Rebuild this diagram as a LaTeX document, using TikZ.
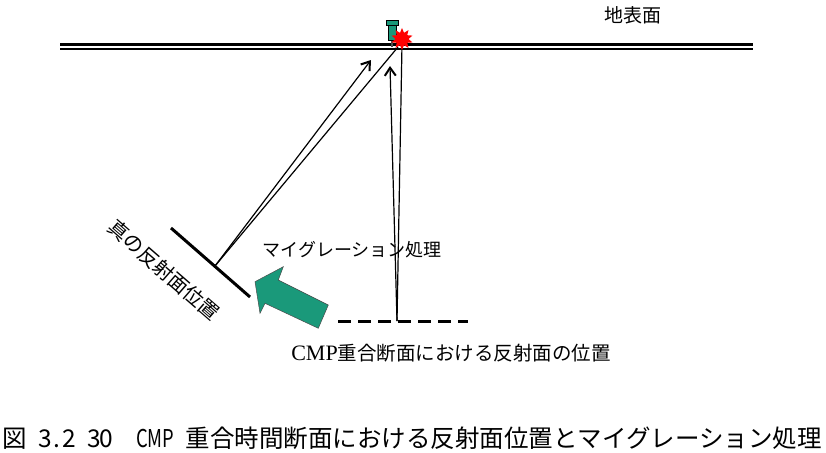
\documentclass[tikz,border=0pt]{standalone}
\usepackage{fontspec}
\usepackage{graphicx}
\setmainfont{Liberation Serif}
\newfontfamily\jpfont{Noto Sans CJK JP}
\usetikzlibrary{arrows.meta,shapes.geometric}
\definecolor{geogreen}{RGB}{26,153,122}
\newcommand\hw[1]{\makebox[0.5em]{#1}}

\begin{document}
\begin{tikzpicture}[x=1pt, y=-1pt,
	ray/.style={line width=1.2pt},
	jptext/.style={font=\jpfont\fontsize{18}{18}\selectfont, inner sep=0pt},
	>={Straight Barb[length=8pt, width=11pt, line width=2pt]}]
	\useasboundingbox (0,0) rectangle (826,452);

	\draw[line width=3.8pt] (60,44.5) -- (753,44.5);
	\draw[line width=1.6pt] (60,49.3) -- (753,49.3);

	\coordinate (reflA) at (171,228);
	\coordinate (reflB) at (250,297);
	\coordinate (normal) at (215,266);
	\coordinate (stackL) at (338,321);
	\coordinate (stackR) at (468,321);
	\coordinate (cmp) at (397,321);
	\coordinate (rxA) at (371,60);
	\coordinate (sxA) at (398,47);
	\coordinate (rxB) at (390,66);
	\coordinate (sxB) at (402,44);

	\draw[line width=3pt] (reflA) -- (reflB);
	\draw[line width=3pt, dash pattern=on 13pt off 7pt] (stackL) -- (stackR);

	\draw[ray, ->] (normal) -- (rxA);
	\draw[ray] (normal) -- (sxA);
	\draw[ray, ->] (cmp) -- (rxB);
	\draw[ray] (cmp) -- (sxB);

	\draw[line width=1.2pt, black!70] (392,40) -- (392,47);
	\filldraw[fill=geogreen, draw=black, line width=0.6pt] (388.5,25) rectangle (396,40.5);
	\filldraw[fill=geogreen, draw=black, line width=0.6pt] (386.5,20.5) rectangle (398.5,25.5);
	\node[star, star points=10, star point ratio=1.7, fill=red, minimum size=22pt, inner sep=0pt] (shot) at (402,39) {};

	\filldraw[fill=geogreen, draw=black!70, line width=0.5pt] (255,281.7) -- (283.3,266.7) -- (278.3,280) -- (328.3,305) -- (318.3,328.3) -- (265,303.3) -- (260,313.3) -- cycle;

	\node[jptext, font=\jpfont\fontsize{19}{19}\selectfont] (surface) at (633,15) {地表面};
	\node[jptext, font=\jpfont\fontsize{20}{20}\selectfont, rotate=-41] (truepos) at (164,270) {真の反射面位置};
	\node[jptext] (migration) at (352,250) {マイグレーション処理};
	\node[inner sep=0pt] (stacklabel) at (451,353) {\fontsize{22}{22}\selectfont CMP\jpfont\fontsize{19.5}{19.5}\selectfont 重合断面における反射面の位置};

	\node[anchor=west, inner sep=0pt, font=\jpfont\fontsize{24.5}{24.5}\selectfont] (caption) at (2,438) {図\hw{ }\hw{3}\hw{.}\hw{2}\hw{ }\hw{3}\hw{0}　\makebox[1.5em]{\scalebox{0.75}[1]{CMP}}\hw{ }重合時間断面における反射面位置とマイグレーション処理};
\end{tikzpicture}
\end{document}
